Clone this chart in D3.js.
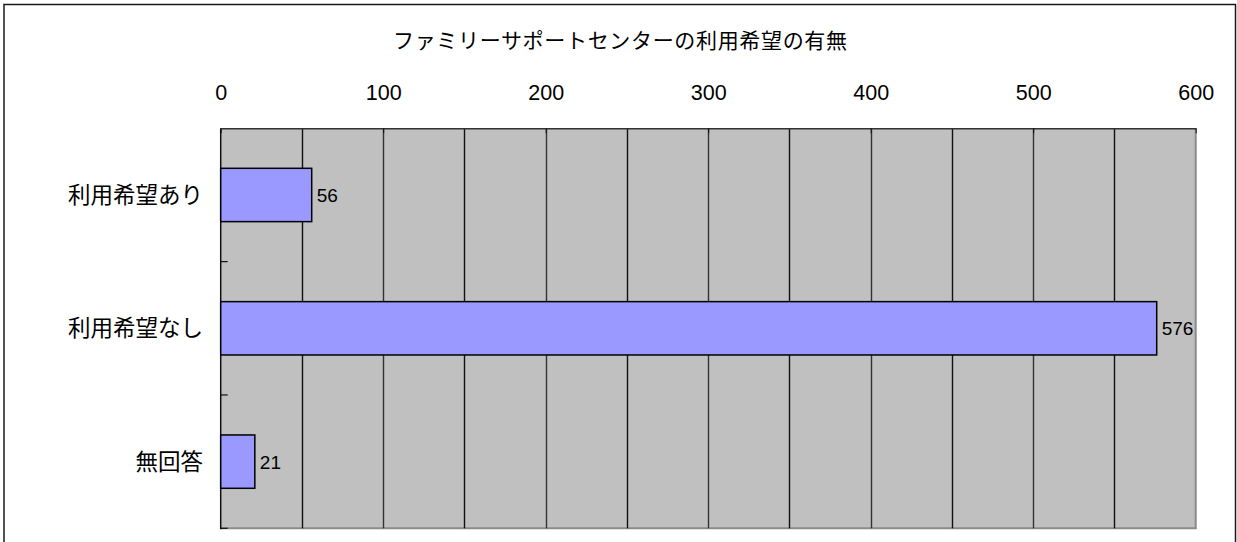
<!DOCTYPE html>
<html>
<head>
<meta charset="utf-8">
<script src="https://cdn.jsdelivr.net/npm/d3@7"></script>
<style>
  body { margin: 0; background: #fff; }
  svg { display: block; }
</style>
</head>
<body>
<svg id="chart" width="1237" height="542"></svg>
<script>
// data
var titleText = "ファミリーサポートセンターの利用希望の有無";
var categories = ["利用希望あり", "利用希望なし", "無回答"];
var counts = [56, 576, 21];
var tickValues = [0, 100, 200, 300, 400, 500, 600];
var gridValues = [50, 100, 150, 200, 250, 300, 350, 400, 450, 500, 550];

var svg = d3.select("#chart");
var jp = "'Noto Sans CJK JP', 'Noto Sans', sans-serif";
var num = "'Liberation Sans', Arial, sans-serif";

var plot = {left: 220.7, top: 128.3, right: 1195.7, bottom: 528.3};

// outer frame (runs off the bottom of the picture)
svg.append("rect")
    .attr("x", 4).attr("y", 4.5)
    .attr("width", 1231.5).attr("height", 560)
    .attr("fill", "#fff")
    .attr("stroke", "#1a1a1a")
    .attr("stroke-width", 1.5);

svg.append("text")
    .attr("x", 620).attr("y", 48)
    .attr("text-anchor", "middle")
    .style("font-family", jp)
    .style("font-size", "21px")
    .attr("textLength", 454)
    .attr("fill", "#000")
    .text(titleText);

var x = d3.scaleLinear().domain([0, 600]).range([plot.left, plot.right]);
var y = d3.scaleBand().domain(categories).range([plot.top, plot.bottom]).paddingInner(0.6).paddingOuter(0.3);
var yb = d3.scaleBand().domain(categories).range([plot.top, plot.bottom]);

// grey plot area with shadow edges
svg.append("rect")
    .attr("x", plot.left).attr("y", plot.top)
    .attr("width", plot.right - plot.left).attr("height", plot.bottom - plot.top)
    .attr("fill", "#c0c0c0");
svg.append("path")
    .attr("d", "M" + plot.right + "," + plot.top + "V" + plot.bottom + "H" + plot.left)
    .attr("fill", "none")
    .attr("stroke", "#8a8a8a")
    .attr("stroke-width", 2);

// vertical gridlines
svg.selectAll(".grid")
    .data(gridValues)
    .enter().append("line")
    .attr("class", "grid")
    .attr("x1", function(d) { return Math.round(x(d)) + 0.5; })
    .attr("x2", function(d) { return Math.round(x(d)) + 0.5; })
    .attr("y1", plot.top)
    .attr("y2", plot.bottom)
    .attr("stroke", function(d) { return d % 100 == 0 ? "#333" : "#111"; })
    .attr("stroke-width", 1.4);

// top value axis
var xAxis = svg.append("g")
    .attr("transform", "translate(0," + plot.top + ")")
    .call(d3.axisTop(x).tickValues(tickValues).tickSizeInner(-5).tickSizeOuter(0).tickPadding(28));
xAxis.select(".domain").attr("stroke", "#333").attr("stroke-width", 1.5);
xAxis.selectAll(".tick line").attr("stroke", "#111");
xAxis.selectAll("text")
    .style("font-family", num)
    .style("font-size", "21.5px")
    .attr("fill", "#000");

// left category axis, ticks between bands
svg.append("line")
    .attr("x1", plot.left).attr("x2", plot.left)
    .attr("y1", plot.top).attr("y2", plot.bottom + 1)
    .attr("stroke", "#111").attr("stroke-width", 1.5);
svg.selectAll(".ctick")
    .data(categories)
    .enter().append("line")
    .attr("class", "ctick")
    .attr("x1", plot.left).attr("x2", plot.left + 7)
    .attr("y1", function(d) { return yb(d) + yb.bandwidth(); })
    .attr("y2", function(d) { return yb(d) + yb.bandwidth(); })
    .attr("stroke", "#111").attr("stroke-width", 1.2);

svg.selectAll(".clabel")
    .data(categories)
    .enter().append("text")
    .attr("class", "clabel")
    .attr("x", 203)
    .attr("y", function(d) { return yb(d) + yb.bandwidth() / 2 + 8; })
    .attr("text-anchor", "end")
    .style("font-family", jp)
    .style("font-size", "22.5px")
    .attr("fill", "#000")
    .text(function(d) { return d; });

// bars
svg.selectAll(".bar")
    .data(counts)
    .enter().append("rect")
    .attr("class", "bar")
    .attr("x", x(0))
    .attr("y", function(d, i) { return y(categories[i]); })
    .attr("width", function(d) { return x(d) - x(0); })
    .attr("height", y.bandwidth())
    .attr("fill", "#9999ff")
    .attr("stroke", "#000")
    .attr("stroke-width", 1.5);

svg.selectAll(".vlabel")
    .data(counts)
    .enter().append("text")
    .attr("class", "vlabel")
    .attr("x", function(d) { return x(d) + 5; })
    .attr("y", function(d, i) { return y(categories[i]) + y.bandwidth() / 2 + 7; })
    .style("font-family", num)
    .style("font-size", "19px")
    .attr("fill", "#000")
    .text(function(d) { return d; });
</script>
</body>
</html>
